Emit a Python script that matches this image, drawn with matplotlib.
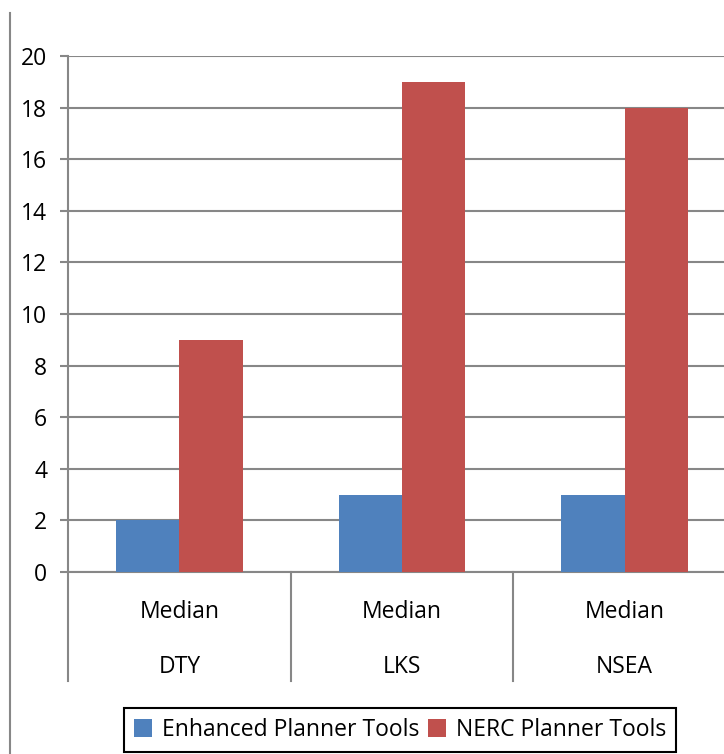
import numpy as np
import matplotlib.pyplot as plt
from matplotlib.lines import Line2D

# Données
groupes = ['DTY', 'LKS', 'NSEA']
sous_label = 'Median'
enhanced = [2, 3, 3]
nerc = [9, 19, 18]
series = ['Enhanced Planner Tools', 'NERC Planner Tools']

plt.rcParams['font.family'] = ['Open Sans', 'DejaVu Sans']
gris = '#878787'
taille = 16.5

fig = plt.figure(figsize=(7.24, 7.54), dpi=100)
ax = fig.add_axes([68/724, 182/754, 668/724, 516/754])

x = np.arange(len(groupes))
width = 0.285
ax.bar(x - width/2, enhanced, width, color='#4F81BD', label=series[0], zorder=3)
ax.bar(x + width/2, nerc, width, color='#C0504D', label=series[1], zorder=3)

ax.set_xlim(-0.5, len(groupes) - 0.5)
ax.set_ylim(0, 20)
ax.set_yticks(np.arange(0, 21, 2))
ax.set_xticks([])
ax.grid(axis='y', color=gris, linewidth=1.5, zorder=0)
for s in ['top', 'right']:
    ax.spines[s].set_visible(False)
for s in ['left', 'bottom']:
    ax.spines[s].set_color(gris)
    ax.spines[s].set_linewidth(1.5)
ax.tick_params(axis='y', direction='out', length=6, width=1.5, color=gris,
               labelsize=taille, pad=9)

# Axe des catégories à deux niveaux
trans = ax.get_xaxis_transform()
for b in np.arange(len(groupes) + 1) - 0.5:
    ax.plot([b, b], [0, -0.211], transform=trans, color=gris, lw=1.5, clip_on=False)
for i, g in enumerate(groupes):
    ax.text(i, -0.078, sous_label, transform=trans, ha='center', va='center', fontsize=taille)
    ax.text(i, -0.184, g, transform=trans, ha='center', va='center', fontsize=taille)

# Ligne verticale à gauche
fig.add_artist(Line2D([10/724, 10/724], [0, 741/754], color=gris, lw=1.5))

leg = fig.legend(loc='center', bbox_to_anchor=(400/724, 24/754), ncol=2, fontsize=taille,
                 frameon=True, fancybox=False, edgecolor='black', framealpha=1,
                 handlelength=0.8, handleheight=0.8, handletextpad=0.4,
                 columnspacing=0.4, borderpad=0.45)
leg.get_frame().set_linewidth(1.5)

fig.savefig('out.png', dpi=100)
